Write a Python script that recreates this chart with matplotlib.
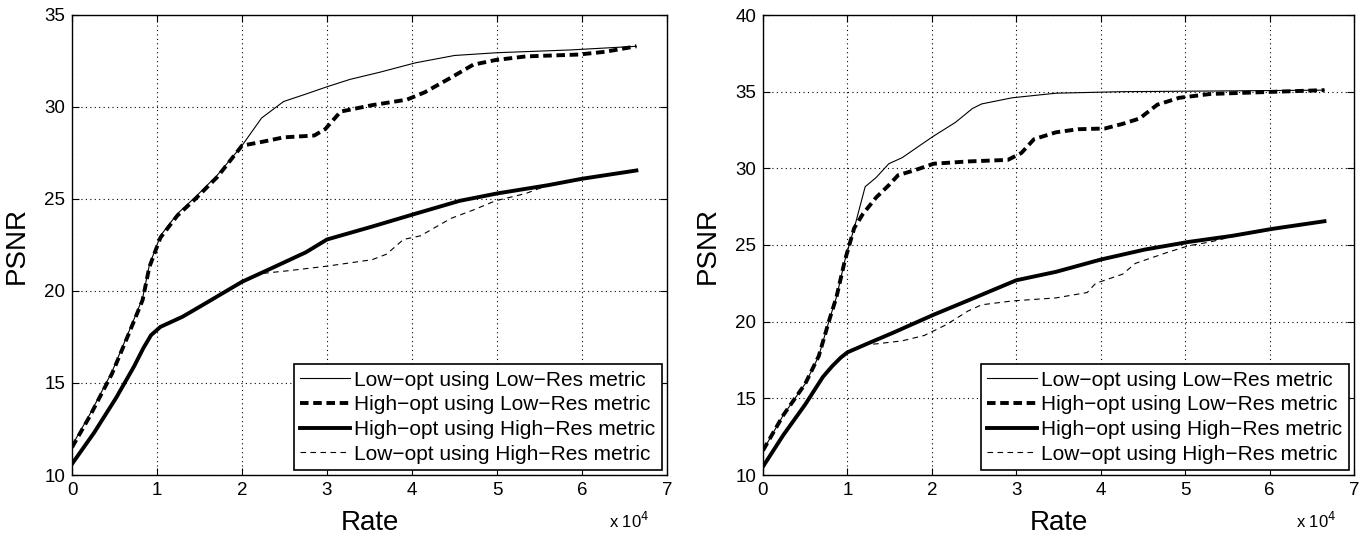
import matplotlib
matplotlib.use("Agg")
import matplotlib.pyplot as plt

plt.rcParams['font.family'] = ['Liberation Sans', 'DejaVu Sans']

labels = ["Low\u2212opt using Low\u2212Res metric",
          "High\u2212opt using Low\u2212Res metric",
          "High\u2212opt using High\u2212Res metric",
          "Low\u2212opt using High\u2212Res metric"]

# ---------- Left panel (rate in units of 1e4) ----------
L_lowlow_x = [0, 0.21, 0.47, 0.67, 0.83, 0.91, 1.04, 1.24, 1.45, 1.71, 2.0, 2.23, 2.49, 2.75, 3.0, 3.27, 3.63, 4.04, 4.5, 5.0, 5.86, 6.64]
L_lowlow_y = [11.6, 13.3, 15.6, 17.8, 19.6, 21.4, 23.0, 24.2, 25.1, 26.3, 27.9, 29.4, 30.3, 30.7, 31.1, 31.5, 31.9, 32.4, 32.8, 32.95, 33.1, 33.3]

L_highlow_x = [0, 0.21, 0.47, 0.67, 0.83, 0.91, 1.04, 1.24, 1.45, 1.71, 2.0, 2.23, 2.49, 2.85, 2.98, 3.16, 3.53, 3.94, 4.15, 4.46, 4.72, 4.98, 5.34, 5.96, 6.27, 6.64]
L_highlow_y = [11.5, 13.2, 15.5, 17.7, 19.5, 21.3, 22.9, 24.1, 25.0, 26.2, 27.9, 28.1, 28.35, 28.45, 28.8, 29.75, 30.1, 30.4, 30.8, 31.6, 32.3, 32.55, 32.75, 32.85, 33.0, 33.3]

L_highhigh_x = [0, 0.26, 0.52, 0.73, 0.84, 0.93, 1.04, 1.3, 1.56, 2.0, 2.33, 2.75, 3.0, 3.53, 4.04, 4.56, 5.0, 5.6, 6.0, 6.64]
L_highhigh_y = [10.6, 12.3, 14.2, 15.9, 16.9, 17.6, 18.05, 18.6, 19.3, 20.5, 21.2, 22.1, 22.8, 23.5, 24.2, 24.9, 25.3, 25.75, 26.1, 26.55]

L_lowhigh_x = [0, 0.26, 0.52, 0.73, 0.84, 0.93, 1.04, 1.3, 1.56, 2.0, 2.23, 2.54, 3.0, 3.53, 3.7, 3.9, 4.1, 4.46, 4.72, 4.98, 5.34, 5.6, 6.0, 6.64]
L_lowhigh_y = [10.6, 12.3, 14.2, 15.9, 16.9, 17.6, 18.05, 18.6, 19.3, 20.5, 20.95, 21.1, 21.35, 21.7, 22.0, 22.8, 23.0, 23.95, 24.4, 24.9, 25.3, 25.75, 26.1, 26.55]

# ---------- Right panel ----------
R_lowlow_x = [0, 0.24, 0.5, 0.66, 0.79, 0.87, 0.97, 1.1, 1.21, 1.34, 1.49, 1.65, 1.86, 2.02, 2.28, 2.48, 2.59, 2.95, 3.47, 4.26, 5.5, 6.65]
R_lowlow_y = [11.6, 13.9, 15.95, 17.75, 20.2, 21.6, 24.0, 26.5, 28.8, 29.4, 30.3, 30.7, 31.5, 32.1, 33.0, 33.9, 34.2, 34.6, 34.9, 35.0, 35.05, 35.1]

R_highlow_x = [0, 0.24, 0.5, 0.66, 0.79, 0.87, 0.97, 1.08, 1.18, 1.34, 1.49, 1.6, 1.81, 2.02, 2.43, 2.9, 3.06, 3.21, 3.47, 3.73, 4.05, 4.26, 4.46, 4.67, 4.93, 5.3, 5.82, 6.65]
R_highlow_y = [11.6, 13.9, 15.95, 17.75, 20.2, 21.6, 24.0, 26.1, 27.0, 28.1, 28.9, 29.55, 29.9, 30.3, 30.45, 30.55, 31.0, 31.9, 32.35, 32.55, 32.6, 32.9, 33.25, 34.15, 34.6, 34.85, 34.95, 35.1]

R_highhigh_x = [0, 0.24, 0.5, 0.71, 0.82, 0.92, 1.0, 1.23, 1.55, 2.02, 2.48, 3.0, 3.47, 4.0, 4.52, 5.04, 5.56, 6.03, 6.65]
R_highhigh_y = [10.55, 12.6, 14.6, 16.4, 17.1, 17.65, 18.0, 18.55, 19.3, 20.45, 21.5, 22.7, 23.25, 24.05, 24.7, 25.2, 25.6, 26.05, 26.55]

R_lowhigh_x = [0, 0.24, 0.5, 0.71, 0.82, 0.92, 1.0, 1.2, 1.34, 1.65, 1.91, 2.17, 2.43, 2.59, 2.95, 3.47, 3.84, 3.94, 4.26, 4.41, 4.78, 5.04, 5.3, 5.56, 6.03, 6.65]
R_lowhigh_y = [10.55, 12.6, 14.6, 16.4, 17.1, 17.65, 18.0, 18.5, 18.55, 18.75, 19.1, 19.8, 20.7, 21.1, 21.35, 21.55, 21.9, 22.5, 23.1, 23.8, 24.5, 24.95, 25.2, 25.55, 26.0, 26.55]

x_ticks = [0, 1, 2, 3, 4, 5, 6, 7]
L_yticks = [10, 15, 20, 25, 30, 35]
R_yticks = [10, 15, 20, 25, 30, 35, 40]

fig = plt.figure(figsize=(13.64, 5.42), dpi=100)
axL = fig.add_axes([72/1364, 1-475/542, (667-72)/1364, 460/542])
axR = fig.add_axes([763/1364, 1-475/542, (1354-763)/1364, 460/542])

def draw(ax, series, yticks):
    styles = [dict(color='black', lw=0.8, ls='-'),
              dict(color='black', lw=2.8, ls=(0, (2.2, 1.2))),
              dict(color='black', lw=2.8, ls='-'),
              dict(color='black', lw=0.8, ls=(0, (5, 4)))]
    handles = []
    for (xs, ys), st, lab in zip(series, styles, labels):
        h, = ax.plot(xs, ys, label=lab, **st)
        handles.append(h)
    ax.set_xlim(0, 7)
    ax.set_ylim(yticks[0], yticks[-1])
    ax.set_xticks(x_ticks)
    ax.set_yticks(yticks)
    ax.tick_params(direction='in', labelsize=13.5, length=5, top=True, right=True, pad=5)
    ax.grid(True, ls=(0, (1, 3)), color='black', lw=0.8)
    for s in ax.spines.values():
        s.set_linewidth(1.0)
    ax.set_xlabel('Rate', fontsize=20, labelpad=8)
    ax.set_ylabel('PSNR', fontsize=20, labelpad=10)
    leg = ax.legend(handles=handles, loc='lower right', fontsize=15, frameon=True,
                    fancybox=False, framealpha=1, edgecolor='black',
                    handlelength=2.4, handletextpad=0.2, borderpad=0.3,
                    labelspacing=0.27, borderaxespad=0.25)
    leg.get_frame().set_linewidth(1.2)
    ax.text(0.97, -0.078, r'x 10$^4$', transform=ax.transAxes, ha='right', va='top', fontsize=12)

draw(axL, [(L_lowlow_x, L_lowlow_y), (L_highlow_x, L_highlow_y),
           (L_highhigh_x, L_highhigh_y), (L_lowhigh_x, L_lowhigh_y)], L_yticks)
draw(axR, [(R_lowlow_x, R_lowlow_y), (R_highlow_x, R_highlow_y),
           (R_highhigh_x, R_highhigh_y), (R_lowhigh_x, R_lowhigh_y)], R_yticks)

fig.savefig('out.png', dpi=100)
